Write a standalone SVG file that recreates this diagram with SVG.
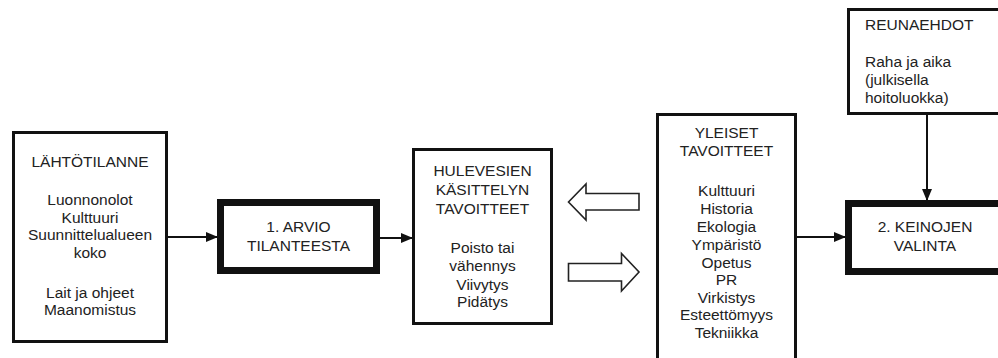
<svg xmlns="http://www.w3.org/2000/svg" width="998" height="358" viewBox="0 0 998 358">
<defs>
<marker id="ah" markerWidth="12" markerHeight="10" refX="11" refY="5" orient="auto" markerUnits="userSpaceOnUse">
<path d="M0,0 L12,5 L0,10 Z" fill="#111"/>
</marker>
<style>
.box{fill:#fff;stroke:#111;stroke-width:3}
.thick{fill:#fff;stroke:#111;stroke-width:7}
.t{font-family:"Liberation Sans",Arial,sans-serif;font-size:15.5px;fill:#222;text-anchor:middle}
.tl{font-family:"Liberation Sans",Arial,sans-serif;font-size:15.5px;fill:#222}
.c{stroke:#111;stroke-width:2;fill:none}
.hollow{fill:#fff;stroke:#222;stroke-width:1.6;stroke-linejoin:miter}
</style>
</defs>
<rect width="998" height="358" fill="#fff"/>
<g id="connectors">
<line class="c" x1="168" y1="237" x2="217" y2="237" marker-end="url(#ah)"/>
<line class="c" x1="380" y1="238" x2="412" y2="238" marker-end="url(#ah)"/>
<line class="c" x1="797" y1="237" x2="845" y2="237" marker-end="url(#ah)"/>
<line class="c" x1="927" y1="115" x2="927" y2="200" marker-end="url(#ah)"/>
<path class="hollow" d="M568.5,202 L586,184 L586,193.5 L639,193.5 L639,210 L586,210 L586,220 Z"/>
<path class="hollow" d="M568.5,263.5 L621.5,263.5 L621.5,253.5 L639,272 L621.5,291 L621.5,281 L568.5,281 Z"/>
</g>
<g id="lahtotilanne">
<rect class="box" x="13.5" y="132.5" width="153" height="209"/>
<text class="t" x="90" y="167">LÄHTÖTILANNE</text>
<text class="t" x="90" y="204.5">Luonnonolot</text>
<text class="t" x="90" y="222.5">Kulttuuri</text>
<text class="t" x="90" y="240">Suunnittelualueen</text>
<text class="t" x="90" y="258">koko</text>
<text class="t" x="90" y="297.5">Lait ja ohjeet</text>
<text class="t" x="90" y="315">Maanomistus</text>
</g>
<g id="arvio">
<rect class="thick" x="220.5" y="202.5" width="156" height="68"/>
<text class="t" x="298.5" y="231.5">1. ARVIO</text>
<text class="t" x="298.5" y="251">TILANTEESTA</text>
</g>
<g id="hulevesien">
<rect class="box" x="413.5" y="149.5" width="138" height="174"/>
<text class="t" x="482.5" y="176">HULEVESIEN</text>
<text class="t" x="482.5" y="195">KÄSITTELYN</text>
<text class="t" x="482.5" y="213.5">TAVOITTEET</text>
<text class="t" x="482.5" y="252.5">Poisto tai</text>
<text class="t" x="482.5" y="271">vähennys</text>
<text class="t" x="482.5" y="289.5">Viivytys</text>
<text class="t" x="482.5" y="307">Pidätys</text>
</g>
<g id="yleiset">
<rect class="box" x="657.5" y="114.5" width="138" height="250"/>
<text class="t" x="726.5" y="137.5">YLEISET</text>
<text class="t" x="726.5" y="155.5">TAVOITTEET</text>
<text class="t" x="726.5" y="196">Kulttuuri</text>
<text class="t" x="726.5" y="213.5">Historia</text>
<text class="t" x="726.5" y="231.5">Ekologia</text>
<text class="t" x="726.5" y="249.5">Ympäristö</text>
<text class="t" x="726.5" y="267.5">Opetus</text>
<text class="t" x="726.5" y="285">PR</text>
<text class="t" x="726.5" y="302.5">Virkistys</text>
<text class="t" x="726.5" y="320">Esteettömyys</text>
<text class="t" x="726.5" y="338">Tekniikka</text>
</g>
<g id="reunaehdot">
<rect class="box" x="848.5" y="9.5" width="160" height="104"/>
<text class="tl" x="865" y="29.5">REUNAEHDOT</text>
<text class="tl" x="865" y="66.5">Raha ja aika</text>
<text class="tl" x="865" y="84.5">(julkisella</text>
<text class="tl" x="865" y="102.5">hoitoluokka)</text>
</g>
<g id="keinojen">
<rect class="thick" x="848.5" y="203.5" width="153" height="68"/>
<text class="t" x="925" y="231.5">2. KEINOJEN</text>
<text class="t" x="925" y="250.5">VALINTA</text>
</g>
</svg>
